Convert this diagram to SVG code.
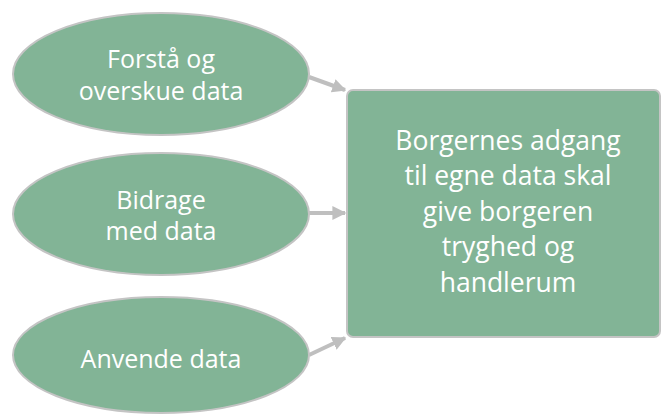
<svg xmlns="http://www.w3.org/2000/svg" width="662" height="414" viewBox="0 0 662 414">
<defs>
<marker id="ah" viewBox="0 0 10 10" refX="9" refY="5" markerWidth="3.5" markerHeight="3.5" orient="auto" markerUnits="strokeWidth">
<path d="M0,0 L10,5 L0,10 Z" fill="#bfbfbf"/>
</marker>
<style>
.node{fill:#82b496;stroke:#c4c4c4;stroke-width:2}
.t{fill:#ffffff;font-family:"Open Sans","Noto Sans",sans-serif;font-size:25px;text-anchor:middle}
.b{font-size:26.5px}
.c{stroke:#bfbfbf;stroke-width:4;fill:none;marker-end:url(#ah)}
</style>
</defs>
<rect width="662" height="414" fill="#ffffff"/>
<g id="connectors">
<line class="c" x1="309" y1="77" x2="345" y2="90"/>
<line class="c" x1="309" y1="213" x2="345" y2="213"/>
<line class="c" x1="309" y1="355" x2="345" y2="338"/>
</g>
<g id="n1">
<ellipse class="node" cx="161" cy="74" rx="148" ry="61"/>
<text class="t" x="161" y="68">Forstå og</text>
<text class="t" x="161" y="100">overskue data</text>
</g>
<g id="n2">
<ellipse class="node" cx="161" cy="214" rx="148" ry="61"/>
<text class="t" x="161" y="209">Bidrage</text>
<text class="t" x="161" y="240">med data</text>
</g>
<g id="n3">
<ellipse class="node" cx="161" cy="355" rx="148" ry="58"/>
<text class="t" x="161" y="368">Anvende data</text>
</g>
<g id="n4">
<rect class="node" x="347" y="90" width="313" height="247" rx="6"/>
<text class="t b" x="508" y="150">Borgernes adgang</text>
<text class="t b" x="508" y="185">til egne data skal</text>
<text class="t b" x="508" y="221">give borgeren</text>
<text class="t b" x="508" y="256">tryghed og</text>
<text class="t b" x="508" y="292">handlerum</text>
</g>
</svg>
